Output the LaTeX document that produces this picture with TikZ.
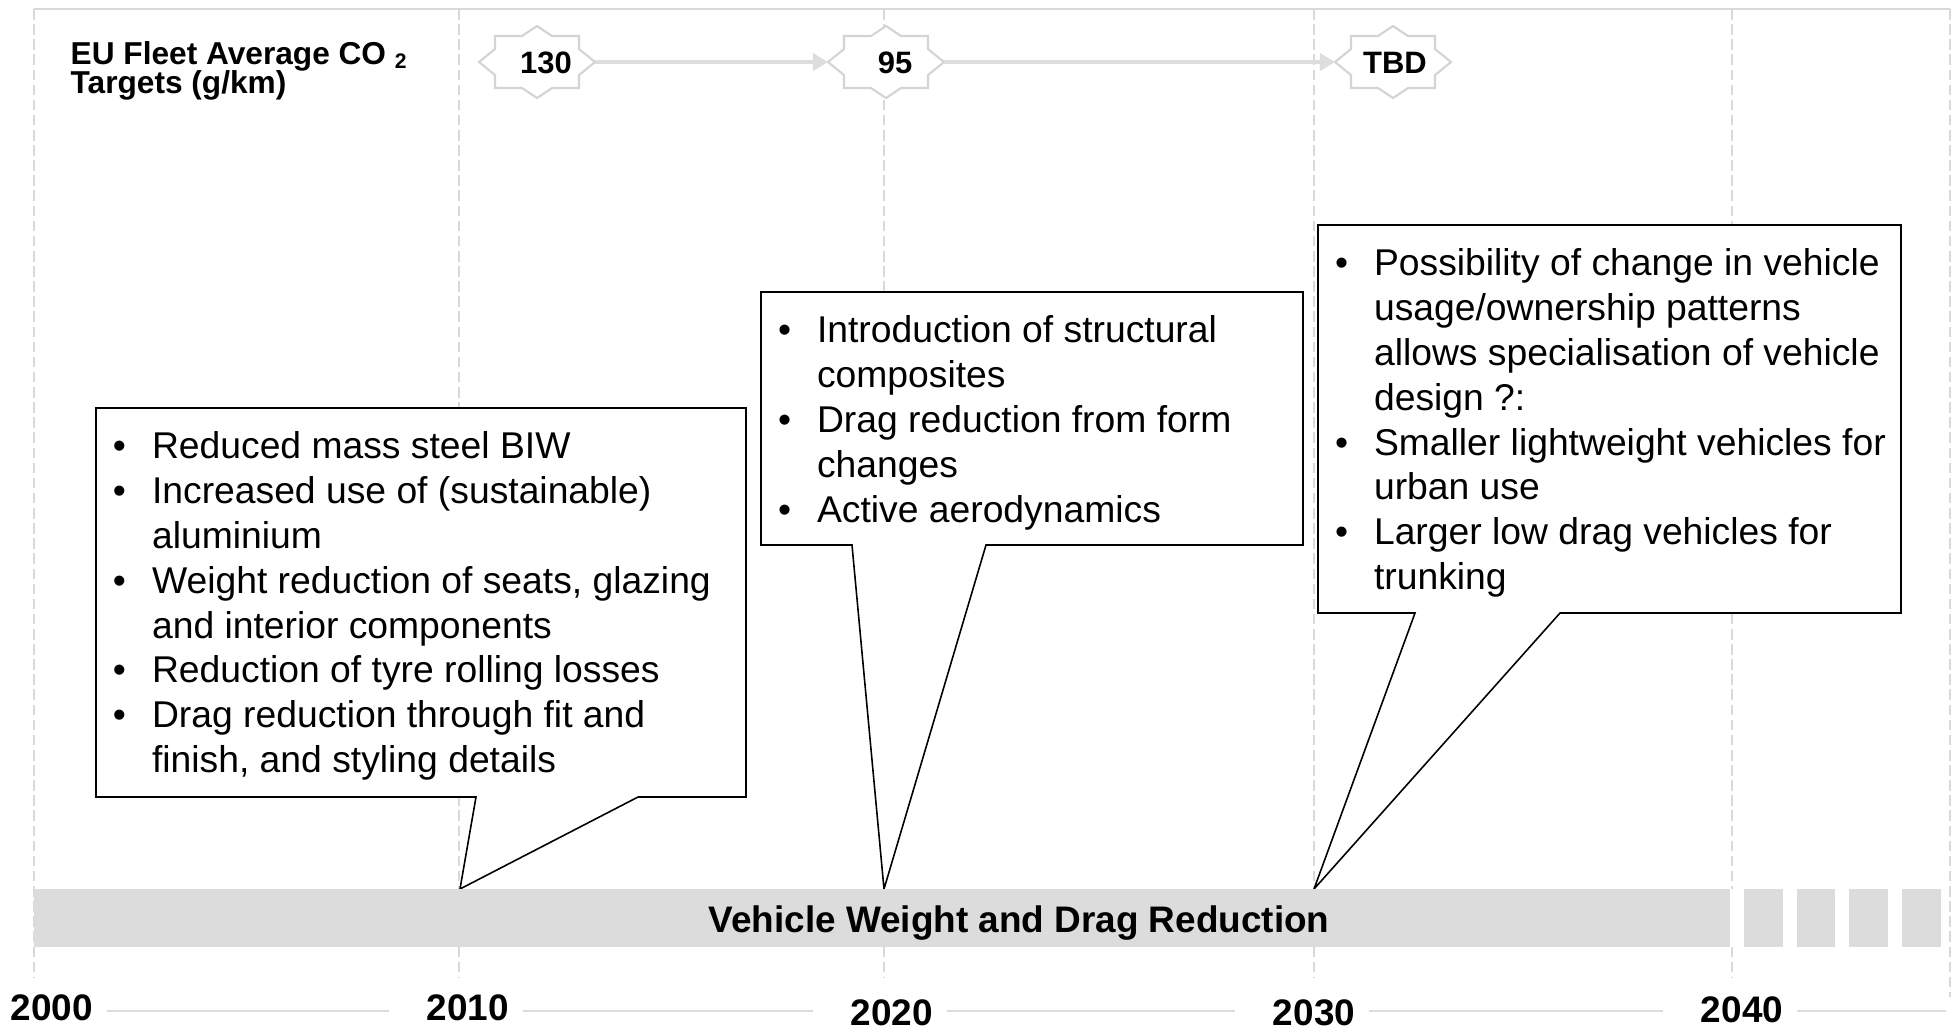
\documentclass[tikz,border=0pt]{standalone}
\usepackage{fontspec}
\setmainfont{Liberation Sans}
\usetikzlibrary{arrows.meta}

% one drawing unit = one pixel of the 1957 x 1029 layout
\newlength{\PX}\setlength{\PX}{0.01cm}

\definecolor{gridgray}{HTML}{D9D9D9}
\definecolor{bargray}{HTML}{DCDCDC}
\definecolor{stargray}{HTML}{D4D4D4}
\definecolor{arrowgray}{HTML}{DDDDDD}
\definecolor{axisgray}{HTML}{DDDDDD}

\pgfdeclarelayer{grid}
\pgfdeclarelayer{shapes}
\pgfsetlayers{grid,shapes,main}

% text of a callout: width, height, bullet rows (bullet & text)
\newcommand\calloutbody[3]{%
  \parbox[t][#2\PX][t]{#1\PX}{\vspace*{19.6\PX}\noindent
    \fontsize{10.6pt}{44.8\PX}\selectfont
    \begin{tabular}[t]{@{\hspace{17\PX}}l@{\hspace{26\PX}}l@{}}#3\end{tabular}}}

% tight two-line heading font
\newcommand\headingfont{\fontsize{9pt}{8.3pt}\selectfont\bfseries\lineskiplimit=-20pt\relax}

\tikzset{
  co2target/.pic={
    \filldraw[draw=stargray, fill=white, line width=0.6pt, line join=miter]
      (0,-36) -- (15,-26) -- (42,-26) -- (42,-13) -- (58,0) -- (42,13) -- (42,26)
      -- (15,26) -- (0,36) -- (-15,26) -- (-42,26) -- (-42,13) -- (-58,0)
      -- (-42,-13) -- (-42,-26) -- (-15,-26) -- cycle;
    \coordinate (-w) at (-58,0);
    \coordinate (-e) at (58,0);
  }
}

\begin{document}
\begin{tikzpicture}[x=0.01cm, y=-0.01cm,
  gridline/.style={draw=gridgray, line width=0.7pt, dash pattern=on 3pt off 1.3pt},
  frameline/.style={draw=gridgray, line width=0.7pt},
  axisline/.style={draw=axisgray, line width=0.6pt},
  yearlabel/.style={inner sep=0pt, font=\fontsize{10.5pt}{12pt}\selectfont\bfseries},
  bar/.style={fill=bargray, draw=none, inner sep=0pt,
              minimum width=1907\PX, minimum height=58\PX},
  barlabel/.style={inner sep=0pt, font=\fontsize{10.5pt}{12pt}\selectfont\bfseries},
  callout/.style={anchor=north west, inner sep=0pt, outer sep=0pt},
  calloutline/.style={draw=black, fill=white, line width=0.45pt, line join=miter},
  targetlabel/.style={inner sep=0pt, font=\fontsize{8.8pt}{10pt}\selectfont\bfseries},
  co2arrow/.style={draw=arrowgray, line width=1.2pt,
                   -{Triangle[length=4.3pt,width=4.9pt]}},
  titletext/.style={inner sep=0pt, align=left, font=\headingfont},
]
\useasboundingbox (0,0) rectangle (1957,1029);

% background, frame and decade grid
\begin{pgfonlayer}{grid}
  \fill[white] (0,0) rectangle (1957,1029);
  \draw[frameline] (34,9) -- (1950,9);
  \foreach \x in {34,459,884,1314,1732}
    \draw[gridline] (\x,9) -- (\x,977);
  \draw[gridline] (1950,9) -- (1950,997);
\end{pgfonlayer}

% programme bar with open-ended stripes after 2040
\node[bar] (bar) at (987.5,918) {};
\foreach \s in {1730,1782.5,1835,1887.5}
  \fill[white] (\s,889) rectangle (\s+14,947);
\node[barlabel] (barlbl) at (1019,923) {Vehicle Weight and Drag Reduction};

% CO2 targets
\node[titletext, anchor=west] (title) at (70,71)
  {EU Fleet Average CO \textsubscript{2}\\Targets (g/km)};
\pic (s1) at (537,62) {co2target};
\pic (s2) at (886,62) {co2target};
\pic (s3) at (1393,62) {co2target};
\node[targetlabel] (t130) at (546,63) {130};
\node[targetlabel] (t95) at (895,63) {95};
\node[targetlabel] (tTBD) at (1395,63) {TBD};
\draw[co2arrow] (s1-e) -- (s2-w);
\draw[co2arrow] (s2-e) -- (s3-w);

% time axis
\coordinate (axisy) at (0,1011);
\coordinate (axisend) at (1946,1011);
\node[yearlabel] (y2000) at (52,1008) {2000};
\node[yearlabel] (y2010) at (468,1008) {2010};
\node[yearlabel] (y2020) at (892,1013) {2020};
\node[yearlabel] (y2030) at (1314,1013) {2030};
\node[yearlabel] (y2040) at (1742,1010) {2040};
\foreach \a/\b in {y2000/y2010, y2010/y2020, y2020/y2030, y2030/y2040}
  \draw[axisline, shorten <=13\PX, shorten >=37\PX] (\a.east |- axisy) -- (\b.west |- axisy);
\draw[axisline, shorten <=13\PX] (y2040.east |- axisy) -- (axisend);

% callouts
\node[callout] (c1) at (96,408) {\calloutbody{650}{389}{%
  • & Reduced mass steel BIW\\
  • & Increased use of (sustainable)\\
    & aluminium\\
  • & Weight reduction of seats, glazing\\
    & and interior components\\
  • & Reduction of tyre rolling losses\\
  • & Drag reduction through fit and\\
    & finish, and styling details}};
\node[callout] (c2) at (761,292) {\calloutbody{542}{253}{%
  • & Introduction of structural\\
    & composites\\
  • & Drag reduction from form\\
    & changes\\
  • & Active aerodynamics}};
\node[callout] (c3) at (1318,225) {\calloutbody{583}{388}{%
  • & Possibility of change in vehicle\\
    & usage/ownership patterns\\
    & allows specialisation of vehicle\\
    & design ?:\\
  • & Smaller lightweight vehicles for\\
    & urban use\\
  • & Larger low drag vehicles for\\
    & trunking}};

% callout pointers: base points on each box and tips on the bar
\coordinate (p1l) at (476,797);  \coordinate (p1r) at (638,797);  \coordinate (p1t) at (460,889);
\coordinate (p2l) at (852,545);  \coordinate (p2r) at (986,545);  \coordinate (p2t) at (884,889);
\coordinate (p3l) at (1415,613); \coordinate (p3r) at (1560,613); \coordinate (p3t) at (1314,889);

\begin{pgfonlayer}{shapes}
  \draw[calloutline] (c1.north west) -- (c1.north east) -- (c1.south east)
    -- (p1r) -- (p1t) -- (p1l) -- (c1.south west) -- cycle;
  \draw[calloutline] (c2.north west) -- (c2.north east) -- (c2.south east)
    -- (p2r) -- (p2t) -- (p2l) -- (c2.south west) -- cycle;
  \draw[calloutline] (c3.north west) -- (c3.north east) -- (c3.south east)
    -- (p3r) -- (p3t) -- (p3l) -- (c3.south west) -- cycle;
\end{pgfonlayer}
\end{tikzpicture}
\end{document}
